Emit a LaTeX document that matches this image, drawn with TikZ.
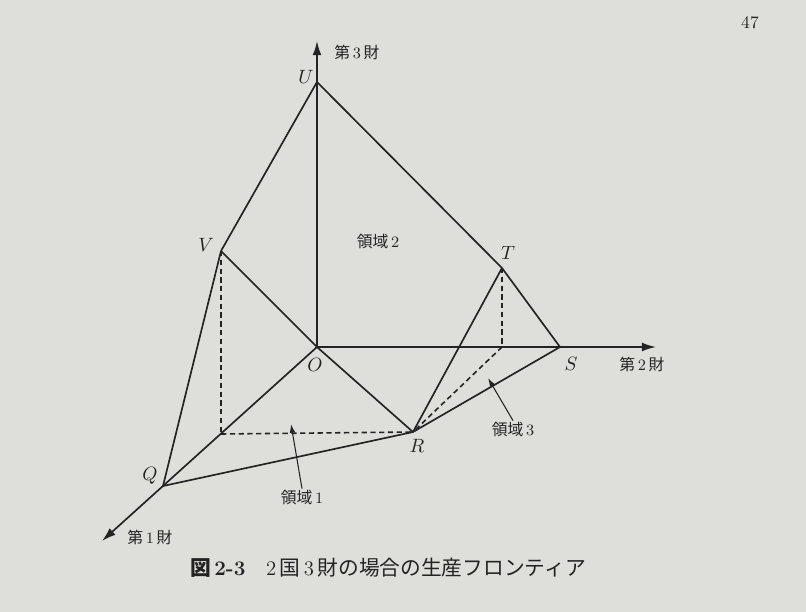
\documentclass[tikz,border=0pt]{standalone}
\usepackage{fontspec}
\newfontfamily\cjk{Noto Sans CJK JP}
\usetikzlibrary{arrows.meta}
\definecolor{paper}{RGB}{222,222,218}
\definecolor{ink}{RGB}{35,35,35}

\begin{document}
\begin{tikzpicture}[x=0.02cm, y=-0.02cm,
      every node/.style={font=\fontsize{10}{12}\selectfont, text=ink, inner sep=1pt},
      pt/.style={font=\fontsize{10.5}{12}\selectfont},
      lbl/.style={font=\fontsize{9}{10}\selectfont\cjk},
      captxt/.style={font=\fontsize{11.8}{13}\selectfont\cjk},
      edge/.style={draw=ink, line width=0.95pt},
      hidden/.style={draw=ink, line width=0.9pt, dash pattern=on 3pt off 2pt},
      axis/.style={draw=ink, line width=0.95pt, -{Latex[length=8pt,width=5pt]}},
      note/.style={draw=ink, line width=0.6pt, -{Latex[length=5pt,width=3.2pt]}},
    ]
    \fill[paper] (0,0) rectangle (806,612);

    \coordinate (O) at (317,347);
    \coordinate (U) at (317,82);
    \coordinate (V) at (221,251);
    \coordinate (T) at (502,268);
    \coordinate (S) at (560,347);
    \coordinate (R) at (413,432);
    \coordinate (Q) at (163,486);
    \coordinate (Vf) at (221,434);
    \coordinate (Tf) at (502,347);
    \coordinate (x1) at (102,541);
    \coordinate (x2) at (656,347);
    \coordinate (x3) at (317,41);

    \draw[axis] (O) -- (x1);
    \draw[axis] (O) -- (x2);
    \draw[axis] (O) -- (x3);

    \foreach \a/\b in {U/V, U/T, T/S, V/Q, V/O, O/R, Q/R, R/S, R/T}
      \draw[edge] (\a) -- (\b);
    \foreach \a/\b in {V/Vf, Vf/R, T/Tf, Tf/R}
      \draw[hidden] (\a) -- (\b);

    \node[pt] (lU) at (306,77) {$U$};
    \node[pt] (lV) at (206,245) {$V$};
    \node[pt] (lT) at (508,253) {$T$};
    \node[pt] (lO) at (315,365) {$O$};
    \node[pt] (lS) at (571,364) {$S$};
    \node[pt] (lR) at (417,446) {$R$};
    \node[pt] (lQ) at (150,476) {$Q$};

    \node[lbl] (ax1) at (150,537) {第\,{\rmfamily 1}\,財};
    \node[lbl] (ax2) at (642,364) {第\,{\rmfamily 2}\,財};
    \node[lbl] (ax3) at (357,52) {第\,{\rmfamily 3}\,財};

    \node[lbl] (r1) at (302,498) {領域\,{\rmfamily 1}};
    \node[lbl] (r2) at (378,242) {領域\,{\rmfamily 2}};
    \node[lbl] (r3) at (513,430) {領域\,{\rmfamily 3}};
    \coordinate (r1tip) at (291,424);
    \coordinate (r3tip) at (488,378);
    \draw[note] (r1.north) -- (r1tip);
    \draw[note] (r3.north) -- (r3tip);

    \node[captxt] (capt) at (388,568) {{\bfseries 図}\,{\rmfamily\bfseries 2-3}\quad{\rmfamily 2}\,国\,{\rmfamily 3}\,財の場合の生産フロンティア};
    \node (pg) at (750,23) {47};
  \end{tikzpicture}
\end{document}
